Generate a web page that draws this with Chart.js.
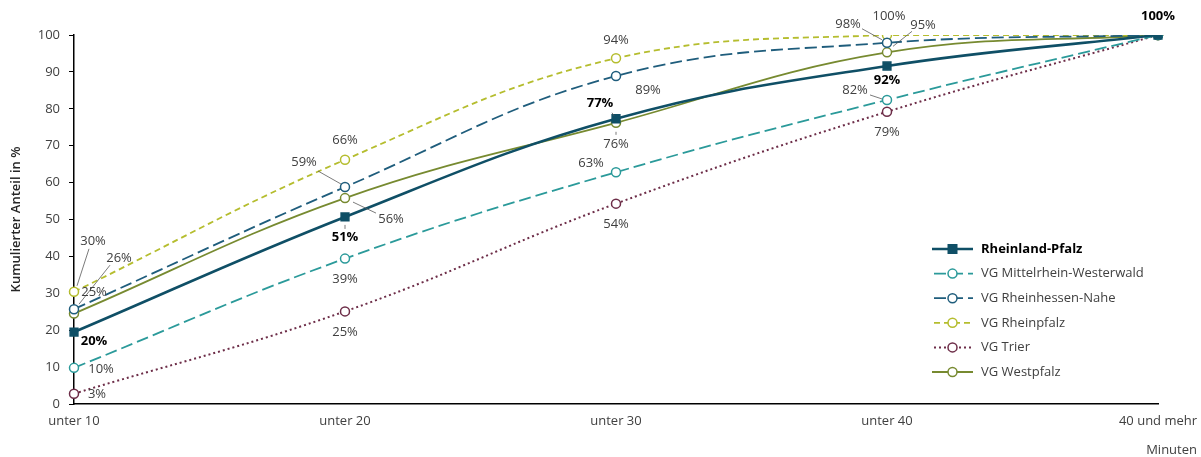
<!DOCTYPE html>
<html>
<head>
<meta charset="utf-8">
<script src="https://cdn.jsdelivr.net/npm/chart.js@4/dist/chart.umd.min.js"></script>
<style>
  html, body { margin: 0; padding: 0; background: #ffffff; }
  canvas { display: block; }
</style>
</head>
<body>
<canvas id="chart" width="1201" height="457"></canvas>
<script>
// Travel time classes (minutes) and cumulative shares in percent
const categories = ['unter 10', 'unter 20', 'unter 30', 'unter 40', '40 und mehr'];
const rheinlandPfalz        = [19.5, 50.7, 77.3, 91.6, 100];
const mittelrheinWesterwald = [9.8, 39.4, 62.8, 82.4, 100];
const rheinhessenNahe       = [25.7, 58.8, 88.9, 97.9, 100];
const rheinpfalz            = [30.4, 66.2, 93.7, 100, 100];
const trier                 = [2.8, 25.1, 54.3, 79.2, 100];
const westpfalz             = [24.5, 55.8, 76.2, 95.3, 100];
const yTickValues = [0, 10, 20, 30, 40, 50, 60, 70, 80, 90, 100];

const FONT = "'Open Sans', 'Noto Sans', sans-serif";
const TEXT = '#404040';

// Label placement per series: offset of the text centre from the point,
// optional leader line [x1, y1, x2, y2] relative to the point.
const labelPlacement = {
  'Rheinland-Pfalz': [
    { dx: 20, dy: 9 },
    { dx: 0, dy: 20, leader: [0, 8, 0, 12] },
    { dx: -16, dy: -15, leader: [-4, -6, -2, -3] },
    { dx: 0, dy: 14 },
    { dx: 0, dy: -19 }
  ],
  'VG Mittelrhein-Westerwald': [
    { dx: 27, dy: 1 },
    { dx: 0, dy: 21 },
    { dx: -25, dy: -9 },
    { dx: -32, dy: -10, leader: [-17, -5, -5, -1] },
    null
  ],
  'VG Rheinhessen-Nahe': [
    { dx: 45, dy: -51, leader: [36, -44, 5, -5] },
    { dx: -41, dy: -25, leader: [-27, -16, -4, -3] },
    { dx: 32, dy: 14 },
    { dx: -39, dy: -18, leader: [-25, -14, -5, -3] },
    null
  ],
  'VG Rheinpfalz': [
    { dx: 19, dy: -51, leader: [15, -43, 3, -6] },
    { dx: 0, dy: -19 },
    { dx: 0, dy: -18 },
    { dx: 2, dy: -19 },
    null
  ],
  'VG Trier': [
    { dx: 23, dy: 1 },
    { dx: 0, dy: 21 },
    { dx: 0, dy: 21 },
    { dx: 0, dy: 21 },
    null
  ],
  'VG Westpfalz': [
    { dx: 20, dy: -21 },
    { dx: 46, dy: 21, leader: [8, 4, 31, 15] },
    { dx: 0, dy: 21, leader: [0, 9, 0, 12] },
    { dx: 36, dy: -27, leader: [25, -21, 6, -6] },
    null
  ]
};

function series(label, data, color, opts) {
  return Object.assign({
    label: label,
    data: data,
    borderColor: color,
    backgroundColor: '#ffffff',
    pointBorderColor: color,
    pointBackgroundColor: '#ffffff',
    pointRadius: 4.5,
    pointHoverRadius: 4.5,
    pointBorderWidth: 1.5,
    pointStyle: 'circle',
    borderWidth: 1.8,
    tension: 0.4,
    fill: false
  }, opts || {});
}

const datasets = [
  series('Rheinland-Pfalz', rheinlandPfalz, '#0f4f66', {
    borderWidth: 2.6, pointStyle: 'rect', pointRadius: 5.5, pointHoverRadius: 5.5,
    pointBackgroundColor: '#0f4f66', bold: true, order: 0
  }),
  series('VG Mittelrhein-Westerwald', mittelrheinWesterwald, '#2b9a9a', { borderDash: [12, 5] }),
  series('VG Rheinhessen-Nahe', rheinhessenNahe, '#1f5d7c', { borderDash: [12, 5] }),
  series('VG Rheinpfalz', rheinpfalz, '#b5bd2e', { borderDash: [6, 4] }),
  series('VG Trier', trier, '#6d2d48', { borderDash: [2, 3], borderWidth: 2 }),
  series('VG Westpfalz', westpfalz, '#778a30', {})
];

// Value labels with optional leader lines
const valueLabels = {
  id: 'valueLabels',
  afterDatasetsDraw(chart) {
    const ctx = chart.ctx;
    ctx.save();
    chart.data.datasets.forEach((ds, di) => {
      const meta = chart.getDatasetMeta(di);
      const place = labelPlacement[ds.label] || [];
      meta.data.forEach((pt, i) => {
        const p = place[i];
        if (!p) return;
        if (p.leader) {
          ctx.beginPath();
          ctx.setLineDash([]);
          ctx.strokeStyle = '#595959';
          ctx.lineWidth = 0.8;
          ctx.moveTo(pt.x + p.leader[0], pt.y + p.leader[1]);
          ctx.lineTo(pt.x + p.leader[2], pt.y + p.leader[3]);
          ctx.stroke();
        }
        ctx.font = (ds.bold ? 'bold ' : '') + '13px ' + FONT;
        ctx.fillStyle = ds.bold ? '#000000' : TEXT;
        ctx.textAlign = 'center';
        ctx.textBaseline = 'middle';
        ctx.fillText(Math.round(ds.data[i]) + '%', pt.x + p.dx, pt.y + p.dy);
      });
    });
    ctx.restore();
  }
};

// Legend with line sample and marker, plus the unit caption of the x axis
const sideLegend = {
  id: 'sideLegend',
  afterDraw(chart) {
    const ctx = chart.ctx;
    const x0 = 932, x1 = 973, xm = 952.5, xt = 981;
    const top = 249, step = 24.6;
    ctx.save();
    chart.data.datasets.forEach((ds, i) => {
      const y = top + i * step;
      ctx.beginPath();
      ctx.strokeStyle = ds.borderColor;
      ctx.lineWidth = ds.borderWidth;
      const dash = ds.borderDash || [];
      ctx.setLineDash(dash);
      ctx.lineDashOffset = dash.length ? -2 : 0;
      ctx.moveTo(x0, y);
      ctx.lineTo(x1, y);
      ctx.stroke();
      ctx.setLineDash([]);
      ctx.lineWidth = ds.pointBorderWidth;
      if (ds.pointStyle === 'rect') {
        ctx.fillStyle = ds.pointBackgroundColor;
        ctx.fillRect(xm - 5, y - 5, 10, 10);
      } else {
        ctx.beginPath();
        ctx.fillStyle = '#ffffff';
        ctx.strokeStyle = ds.borderColor;
        ctx.arc(xm, y, 4.5, 0, Math.PI * 2);
        ctx.fill();
        ctx.stroke();
      }
      ctx.font = (ds.bold ? 'bold ' : '') + '13px ' + FONT;
      ctx.fillStyle = ds.bold ? '#000000' : TEXT;
      ctx.textAlign = 'left';
      ctx.textBaseline = 'middle';
      ctx.fillText(ds.label, xt, y);
    });
    ctx.font = '13px ' + FONT;
    ctx.fillStyle = TEXT;
    ctx.textAlign = 'right';
    ctx.textBaseline = 'middle';
    ctx.fillText('Minuten', 1197, 450);
    ctx.restore();
  }
};

Chart.defaults.font.family = FONT;
Chart.defaults.font.size = 13;
Chart.defaults.color = TEXT;

new Chart(document.getElementById('chart'), {
  type: 'line',
  data: { labels: categories, datasets: datasets },
  options: {
    responsive: false,
    animation: false,
    layout: { padding: { left: 0, right: 43, top: 35, bottom: 0 } },
    plugins: {
      legend: { display: false },
      tooltip: { enabled: false }
    },
    scales: {
      x: {
        type: 'category',
        offset: false,
        grid: { display: true, drawOnChartArea: false, drawTicks: false, color: 'rgba(0,0,0,0)' },
        border: { display: true, color: '#000000', width: 1.5 },
        ticks: { padding: 9, maxRotation: 0, autoSkip: false, color: TEXT, font: { size: 13 } },
        afterFit(scale) { scale.height = 53; scale.paddingLeft = 0; scale.paddingRight = 0; }
      },
      y: {
        min: 0,
        max: 100,
        afterBuildTicks(scale) { scale.ticks = yTickValues.map(v => ({ value: v })); },
        grid: { display: true, drawOnChartArea: false, drawTicks: true, tickLength: 5, color: '#000000', lineWidth: 1 },
        border: { display: true, color: '#000000', width: 1.5 },
        ticks: { padding: 9, color: TEXT, font: { size: 13 } },
        title: { display: true, text: 'Kumulierter Anteil in %', color: '#262626', font: { size: 13, weight: '600' }, padding: { top: 8, bottom: 0 } },
        afterFit(scale) { scale.width = 74; scale.paddingTop = 0; scale.paddingBottom = 0; }
      }
    }
  },
  plugins: [valueLabels, sideLegend]
});
</script>
</body>
</html>
